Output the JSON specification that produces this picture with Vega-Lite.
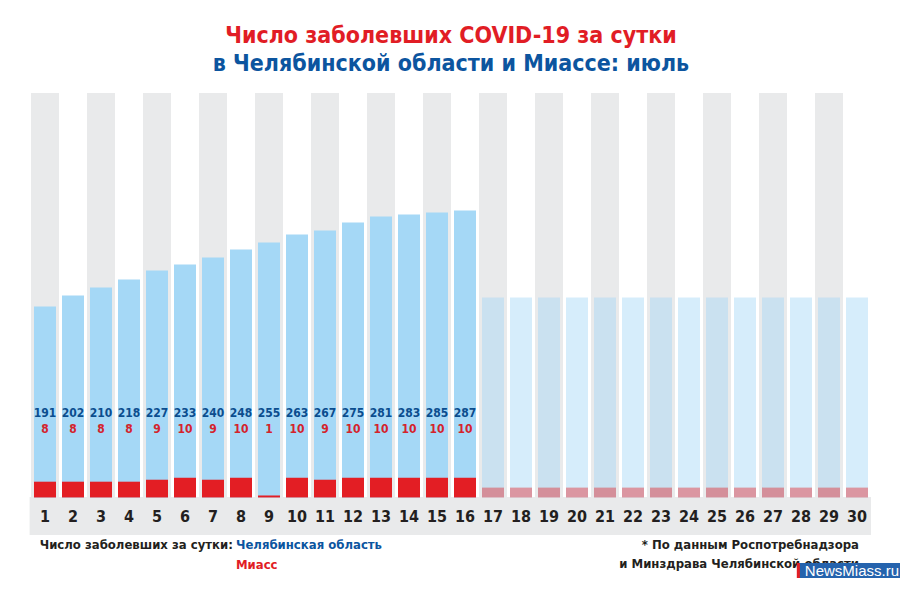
{
  "$schema": "https://vega.github.io/schema/vega-lite/v6.json",
  "width": 840,
  "height": 487,
  "autosize": {"type": "none"},
  "padding": {"left": 31, "top": 93, "right": 29, "bottom": 9},
  "background": "white",
  "config": {"view": {"stroke": null}, "scale": {"continuousPadding": 0}},
  "title": {
    "text": "Число заболевших COVID-19 за сутки",
    "subtitle": "в Челябинской области и Миассе:  июль",
    "anchor": "middle",
    "frame": "group",
    "offset": 17,
    "font": "DejaVu Sans Condensed, sans-serif",
    "fontSize": 23,
    "fontWeight": "bold",
    "color": "#e11d25",
    "subtitleFont": "DejaVu Sans Condensed, sans-serif",
    "subtitleFontSize": 23,
    "subtitleFontWeight": "bold",
    "subtitleColor": "#0c559f",
    "subtitlePadding": 5
  },
  "datasets": {
    "july": [
      {"day": 1, "chel": 191, "miass": 8},
      {"day": 2, "chel": 202, "miass": 8},
      {"day": 3, "chel": 210, "miass": 8},
      {"day": 4, "chel": 218, "miass": 8},
      {"day": 5, "chel": 227, "miass": 9},
      {"day": 6, "chel": 233, "miass": 10},
      {"day": 7, "chel": 240, "miass": 9},
      {"day": 8, "chel": 248, "miass": 10},
      {"day": 9, "chel": 255, "miass": 1},
      {"day": 10, "chel": 263, "miass": 10},
      {"day": 11, "chel": 267, "miass": 9},
      {"day": 12, "chel": 275, "miass": 10},
      {"day": 13, "chel": 281, "miass": 10},
      {"day": 14, "chel": 283, "miass": 10},
      {"day": 15, "chel": 285, "miass": 10},
      {"day": 16, "chel": 287, "miass": 10}
    ],
    "future": [
      {"day": 17, "chel_level": 200, "miass_level": 5},
      {"day": 18, "chel_level": 200, "miass_level": 5},
      {"day": 19, "chel_level": 200, "miass_level": 5},
      {"day": 20, "chel_level": 200, "miass_level": 5},
      {"day": 21, "chel_level": 200, "miass_level": 5},
      {"day": 22, "chel_level": 200, "miass_level": 5},
      {"day": 23, "chel_level": 200, "miass_level": 5},
      {"day": 24, "chel_level": 200, "miass_level": 5},
      {"day": 25, "chel_level": 200, "miass_level": 5},
      {"day": 26, "chel_level": 200, "miass_level": 5},
      {"day": 27, "chel_level": 200, "miass_level": 5},
      {"day": 28, "chel_level": 200, "miass_level": 5},
      {"day": 29, "chel_level": 200, "miass_level": 5},
      {"day": 30, "chel_level": 200, "miass_level": 5}
    ],
    "days": [
      {"day": 1}, {"day": 2}, {"day": 3}, {"day": 4}, {"day": 5}, {"day": 6},
      {"day": 7}, {"day": 8}, {"day": 9}, {"day": 10}, {"day": 11}, {"day": 12},
      {"day": 13}, {"day": 14}, {"day": 15}, {"day": 16}, {"day": 17}, {"day": 18},
      {"day": 19}, {"day": 20}, {"day": 21}, {"day": 22}, {"day": 23}, {"day": 24},
      {"day": 25}, {"day": 26}, {"day": 27}, {"day": 28}, {"day": 29}, {"day": 30}
    ]
  },
  "layer": [
    {
      "data": {"name": "days"},
      "transform": [{"filter": "datum.day % 2 == 1"}],
      "mark": {"type": "bar", "size": 28, "color": "#e9eaeb", "orient": "vertical"},
      "encoding": {
        "x": {"field": "day", "type": "quantitative", "scale": {"domain": [0.5, 30.5], "zero": false, "nice": false, "padding": 0}, "axis": null},
        "y": {"datum": 404.5, "type": "quantitative", "scale": {"domain": [-82.5, 404.5], "nice": false, "padding": 0}, "axis": null},
        "y2": {"datum": 0}
      }
    },
    {
      "data": {"values": [{"part": "strip"}]},
      "mark": {"type": "rect", "color": "#e9eaeb"},
      "encoding": {
        "x": {"datum": 0.45, "type": "quantitative", "scale": {"domain": [0.5, 30.5], "zero": false, "nice": false, "padding": 0}, "axis": null},
        "x2": {"datum": 30.5},
        "y": {"datum": 0.5, "type": "quantitative", "scale": {"domain": [-82.5, 404.5], "nice": false, "padding": 0}, "axis": null},
        "y2": {"datum": -37.5}
      }
    },
    {
      "data": {"name": "july"},
      "mark": {"type": "bar", "size": 22, "color": "#a5d8f6", "orient": "vertical"},
      "encoding": {
        "x": {"field": "day", "type": "quantitative", "scale": {"domain": [0.5, 30.5], "zero": false, "nice": false, "padding": 0}, "axis": null},
        "y": {"field": "chel", "type": "quantitative", "scale": {"domain": [-82.5, 404.5], "nice": false, "padding": 0}, "axis": null, "stack": null},
        "y2": {"datum": 0}
      }
    },
    {
      "data": {"name": "future"},
      "mark": {"type": "bar", "size": 22, "color": "#a5d8f6", "opacity": 0.45, "orient": "vertical"},
      "encoding": {
        "x": {"field": "day", "type": "quantitative", "scale": {"domain": [0.5, 30.5], "zero": false, "nice": false, "padding": 0}, "axis": null},
        "y": {"field": "chel_level", "type": "quantitative", "scale": {"domain": [-82.5, 404.5], "nice": false, "padding": 0}, "axis": null, "stack": null},
        "y2": {"datum": 0}
      }
    },
    {
      "data": {"name": "july"},
      "mark": {"type": "bar", "size": 22, "color": "#e31e24", "orient": "vertical"},
      "encoding": {
        "x": {"field": "day", "type": "quantitative", "scale": {"domain": [0.5, 30.5], "zero": false, "nice": false, "padding": 0}, "axis": null},
        "y": {"field": "miass", "type": "quantitative", "scale": {"domain": [-41.9, 205.3], "nice": false, "padding": 0}, "axis": null, "stack": null},
        "y2": {"datum": 0}
      }
    },
    {
      "data": {"name": "future"},
      "mark": {"type": "bar", "size": 22, "color": "#e31e24", "opacity": 0.42, "orient": "vertical"},
      "encoding": {
        "x": {"field": "day", "type": "quantitative", "scale": {"domain": [0.5, 30.5], "zero": false, "nice": false, "padding": 0}, "axis": null},
        "y": {"field": "miass_level", "type": "quantitative", "scale": {"domain": [-41.9, 205.3], "nice": false, "padding": 0}, "axis": null, "stack": null},
        "y2": {"datum": 0}
      }
    },
    {
      "data": {"name": "july"},
      "mark": {"type": "text", "font": "DejaVu Sans Condensed, sans-serif", "fontWeight": "bold", "fontSize": 12, "color": "#0b4d8e", "baseline": "middle"},
      "encoding": {
        "x": {"field": "day", "type": "quantitative", "scale": {"domain": [0.5, 30.5], "zero": false, "nice": false, "padding": 0}, "axis": null},
        "y": {"datum": 84.5, "type": "quantitative", "scale": {"domain": [-82.5, 404.5], "nice": false, "padding": 0}, "axis": null},
        "text": {"field": "chel", "type": "quantitative"}
      }
    },
    {
      "data": {"name": "july"},
      "mark": {"type": "text", "font": "DejaVu Sans Condensed, sans-serif", "fontWeight": "bold", "fontSize": 12, "color": "#d4232c", "baseline": "middle"},
      "encoding": {
        "x": {"field": "day", "type": "quantitative", "scale": {"domain": [0.5, 30.5], "zero": false, "nice": false, "padding": 0}, "axis": null},
        "y": {"datum": 69, "type": "quantitative", "scale": {"domain": [-82.5, 404.5], "nice": false, "padding": 0}, "axis": null},
        "text": {"field": "miass", "type": "quantitative"}
      }
    },
    {
      "data": {"name": "days"},
      "mark": {"type": "text", "font": "DejaVu Sans Condensed, sans-serif", "fontWeight": "bold", "fontSize": 16, "color": "#231f20", "baseline": "middle"},
      "encoding": {
        "x": {"field": "day", "type": "quantitative", "scale": {"domain": [0.5, 30.5], "zero": false, "nice": false, "padding": 0}, "axis": null},
        "y": {"datum": -19.5, "type": "quantitative", "scale": {"domain": [-82.5, 404.5], "nice": false, "padding": 0}, "axis": null},
        "text": {"field": "day", "type": "quantitative"}
      }
    },
    {
      "data": {"values": [{"label": "Число заболевших за сутки:"}]},
      "mark": {"type": "text", "align": "right", "baseline": "middle", "font": "DejaVu Sans Condensed, sans-serif", "fontWeight": "bold", "fontSize": 13, "color": "#231f20"},
      "encoding": {
        "x": {"datum": 7.71, "type": "quantitative", "scale": {"domain": [0.5, 30.5], "zero": false, "nice": false, "padding": 0}, "axis": null},
        "y": {"datum": -47.5, "type": "quantitative", "scale": {"domain": [-82.5, 404.5], "nice": false, "padding": 0}, "axis": null},
        "text": {"field": "label"}
      }
    },
    {
      "data": {"values": [{"label": "Челябинская область"}]},
      "mark": {"type": "text", "align": "left", "baseline": "middle", "font": "DejaVu Sans Condensed, sans-serif", "fontWeight": "bold", "fontSize": 13, "color": "#0c559f"},
      "encoding": {
        "x": {"datum": 7.82, "type": "quantitative", "scale": {"domain": [0.5, 30.5], "zero": false, "nice": false, "padding": 0}, "axis": null},
        "y": {"datum": -47.5, "type": "quantitative", "scale": {"domain": [-82.5, 404.5], "nice": false, "padding": 0}, "axis": null},
        "text": {"field": "label"}
      }
    },
    {
      "data": {"values": [{"label": "Миасс"}]},
      "mark": {"type": "text", "align": "left", "baseline": "middle", "font": "DejaVu Sans Condensed, sans-serif", "fontWeight": "bold", "fontSize": 13, "color": "#e11d25"},
      "encoding": {
        "x": {"datum": 7.82, "type": "quantitative", "scale": {"domain": [0.5, 30.5], "zero": false, "nice": false, "padding": 0}, "axis": null},
        "y": {"datum": -67.5, "type": "quantitative", "scale": {"domain": [-82.5, 404.5], "nice": false, "padding": 0}, "axis": null},
        "text": {"field": "label"}
      }
    },
    {
      "data": {"values": [{"label": "* По данным Роспотребнадзора"}]},
      "mark": {"type": "text", "align": "right", "baseline": "middle", "font": "DejaVu Sans Condensed, sans-serif", "fontWeight": "bold", "fontSize": 13, "color": "#231f20"},
      "encoding": {
        "x": {"datum": 30.07, "type": "quantitative", "scale": {"domain": [0.5, 30.5], "zero": false, "nice": false, "padding": 0}, "axis": null},
        "y": {"datum": -47, "type": "quantitative", "scale": {"domain": [-82.5, 404.5], "nice": false, "padding": 0}, "axis": null},
        "text": {"field": "label"}
      }
    },
    {
      "data": {"values": [{"label": "и Минздрава Челябинской области"}]},
      "mark": {"type": "text", "align": "right", "baseline": "middle", "font": "DejaVu Sans Condensed, sans-serif", "fontWeight": "bold", "fontSize": 13, "color": "#231f20"},
      "encoding": {
        "x": {"datum": 30.07, "type": "quantitative", "scale": {"domain": [0.5, 30.5], "zero": false, "nice": false, "padding": 0}, "axis": null},
        "y": {"datum": -66, "type": "quantitative", "scale": {"domain": [-82.5, 404.5], "nice": false, "padding": 0}, "axis": null},
        "text": {"field": "label"}
      }
    },
    {
      "data": {"values": [{"label": "NewsMiass.ru"}]},
      "mark": {"type": "rect", "color": "#2563ad", "clip": false},
      "encoding": {
        "x": {"datum": 27.89, "type": "quantitative", "scale": {"domain": [0.5, 30.5], "zero": false, "nice": false, "padding": 0}, "axis": null},
        "x2": {"datum": 31.6},
        "y": {"datum": -65.5, "type": "quantitative", "scale": {"domain": [-82.5, 404.5], "nice": false, "padding": 0}, "axis": null},
        "y2": {"datum": -80.5}
      }
    },
    {
      "data": {"values": [{"label": "NewsMiass.ru"}]},
      "mark": {"type": "rect", "color": "#e31e24", "clip": false},
      "encoding": {
        "x": {"datum": 27.85, "type": "quantitative", "scale": {"domain": [0.5, 30.5], "zero": false, "nice": false, "padding": 0}, "axis": null},
        "x2": {"datum": 27.96},
        "y": {"datum": -65.5, "type": "quantitative", "scale": {"domain": [-82.5, 404.5], "nice": false, "padding": 0}, "axis": null},
        "y2": {"datum": -80.5}
      }
    },
    {
      "data": {"values": [{"label": "NewsMiass.ru"}]},
      "mark": {"type": "text", "align": "center", "baseline": "middle", "font": "Liberation Sans, Arial, sans-serif", "fontSize": 15, "color": "white", "clip": false},
      "encoding": {
        "x": {"datum": 29.82, "type": "quantitative", "scale": {"domain": [0.5, 30.5], "zero": false, "nice": false, "padding": 0}, "axis": null},
        "y": {"datum": -73, "type": "quantitative", "scale": {"domain": [-82.5, 404.5], "nice": false, "padding": 0}, "axis": null},
        "text": {"field": "label"}
      }
    }
  ],
  "resolve": {"scale": {"y": "independent"}}
}
